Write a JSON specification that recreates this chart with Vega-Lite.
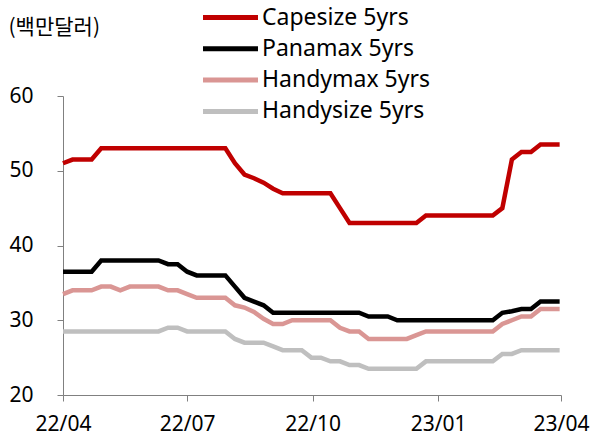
{
  "$schema": "https://vega.github.io/schema/vega-lite/v6.json",
  "width": 498,
  "height": 299,
  "autosize": "none",
  "padding": {"left": 63, "top": 96, "right": 34, "bottom": 46},
  "background": "white",
  "config": {"view": {"stroke": null}},
  "data": {"values": [
    {"d":"2022-04-01","Capesize 5yrs":51,"Panamax 5yrs":36.5,"Handymax 5yrs":33.5,"Handysize 5yrs":28.5},
    {"d":"2022-04-08","Capesize 5yrs":51.5,"Panamax 5yrs":36.5,"Handymax 5yrs":34,"Handysize 5yrs":28.5},
    {"d":"2022-04-15","Capesize 5yrs":51.5,"Panamax 5yrs":36.5,"Handymax 5yrs":34,"Handysize 5yrs":28.5},
    {"d":"2022-04-22","Capesize 5yrs":51.5,"Panamax 5yrs":36.5,"Handymax 5yrs":34,"Handysize 5yrs":28.5},
    {"d":"2022-04-29","Capesize 5yrs":53,"Panamax 5yrs":38,"Handymax 5yrs":34.5,"Handysize 5yrs":28.5},
    {"d":"2022-05-06","Capesize 5yrs":53,"Panamax 5yrs":38,"Handymax 5yrs":34.5,"Handysize 5yrs":28.5},
    {"d":"2022-05-13","Capesize 5yrs":53,"Panamax 5yrs":38,"Handymax 5yrs":34,"Handysize 5yrs":28.5},
    {"d":"2022-05-20","Capesize 5yrs":53,"Panamax 5yrs":38,"Handymax 5yrs":34.5,"Handysize 5yrs":28.5},
    {"d":"2022-05-27","Capesize 5yrs":53,"Panamax 5yrs":38,"Handymax 5yrs":34.5,"Handysize 5yrs":28.5},
    {"d":"2022-06-03","Capesize 5yrs":53,"Panamax 5yrs":38,"Handymax 5yrs":34.5,"Handysize 5yrs":28.5},
    {"d":"2022-06-10","Capesize 5yrs":53,"Panamax 5yrs":38,"Handymax 5yrs":34.5,"Handysize 5yrs":28.5},
    {"d":"2022-06-17","Capesize 5yrs":53,"Panamax 5yrs":37.5,"Handymax 5yrs":34,"Handysize 5yrs":29},
    {"d":"2022-06-24","Capesize 5yrs":53,"Panamax 5yrs":37.5,"Handymax 5yrs":34,"Handysize 5yrs":29},
    {"d":"2022-07-01","Capesize 5yrs":53,"Panamax 5yrs":36.5,"Handymax 5yrs":33.5,"Handysize 5yrs":28.5},
    {"d":"2022-07-08","Capesize 5yrs":53,"Panamax 5yrs":36,"Handymax 5yrs":33,"Handysize 5yrs":28.5},
    {"d":"2022-07-15","Capesize 5yrs":53,"Panamax 5yrs":36,"Handymax 5yrs":33,"Handysize 5yrs":28.5},
    {"d":"2022-07-22","Capesize 5yrs":53,"Panamax 5yrs":36,"Handymax 5yrs":33,"Handysize 5yrs":28.5},
    {"d":"2022-07-29","Capesize 5yrs":53,"Panamax 5yrs":36,"Handymax 5yrs":33,"Handysize 5yrs":28.5},
    {"d":"2022-08-05","Capesize 5yrs":51,"Panamax 5yrs":34.5,"Handymax 5yrs":32,"Handysize 5yrs":27.5},
    {"d":"2022-08-12","Capesize 5yrs":49.5,"Panamax 5yrs":33,"Handymax 5yrs":31.7,"Handysize 5yrs":27},
    {"d":"2022-08-19","Capesize 5yrs":49,"Panamax 5yrs":32.5,"Handymax 5yrs":31.1,"Handysize 5yrs":27},
    {"d":"2022-08-26","Capesize 5yrs":48.4,"Panamax 5yrs":32,"Handymax 5yrs":30.2,"Handysize 5yrs":27},
    {"d":"2022-09-02","Capesize 5yrs":47.6,"Panamax 5yrs":31,"Handymax 5yrs":29.5,"Handysize 5yrs":26.5},
    {"d":"2022-09-09","Capesize 5yrs":47,"Panamax 5yrs":31,"Handymax 5yrs":29.5,"Handysize 5yrs":26},
    {"d":"2022-09-16","Capesize 5yrs":47,"Panamax 5yrs":31,"Handymax 5yrs":30,"Handysize 5yrs":26},
    {"d":"2022-09-23","Capesize 5yrs":47,"Panamax 5yrs":31,"Handymax 5yrs":30,"Handysize 5yrs":26},
    {"d":"2022-09-30","Capesize 5yrs":47,"Panamax 5yrs":31,"Handymax 5yrs":30,"Handysize 5yrs":25},
    {"d":"2022-10-07","Capesize 5yrs":47,"Panamax 5yrs":31,"Handymax 5yrs":30,"Handysize 5yrs":25},
    {"d":"2022-10-14","Capesize 5yrs":47,"Panamax 5yrs":31,"Handymax 5yrs":30,"Handysize 5yrs":24.5},
    {"d":"2022-10-21","Capesize 5yrs":45,"Panamax 5yrs":31,"Handymax 5yrs":29,"Handysize 5yrs":24.5},
    {"d":"2022-10-28","Capesize 5yrs":43,"Panamax 5yrs":31,"Handymax 5yrs":28.5,"Handysize 5yrs":24},
    {"d":"2022-11-04","Capesize 5yrs":43,"Panamax 5yrs":31,"Handymax 5yrs":28.5,"Handysize 5yrs":24},
    {"d":"2022-11-11","Capesize 5yrs":43,"Panamax 5yrs":30.5,"Handymax 5yrs":27.5,"Handysize 5yrs":23.5},
    {"d":"2022-11-18","Capesize 5yrs":43,"Panamax 5yrs":30.5,"Handymax 5yrs":27.5,"Handysize 5yrs":23.5},
    {"d":"2022-11-25","Capesize 5yrs":43,"Panamax 5yrs":30.5,"Handymax 5yrs":27.5,"Handysize 5yrs":23.5},
    {"d":"2022-12-02","Capesize 5yrs":43,"Panamax 5yrs":30,"Handymax 5yrs":27.5,"Handysize 5yrs":23.5},
    {"d":"2022-12-09","Capesize 5yrs":43,"Panamax 5yrs":30,"Handymax 5yrs":27.5,"Handysize 5yrs":23.5},
    {"d":"2022-12-16","Capesize 5yrs":43,"Panamax 5yrs":30,"Handymax 5yrs":28,"Handysize 5yrs":23.5},
    {"d":"2022-12-23","Capesize 5yrs":44,"Panamax 5yrs":30,"Handymax 5yrs":28.5,"Handysize 5yrs":24.5},
    {"d":"2022-12-30","Capesize 5yrs":44,"Panamax 5yrs":30,"Handymax 5yrs":28.5,"Handysize 5yrs":24.5},
    {"d":"2023-01-06","Capesize 5yrs":44,"Panamax 5yrs":30,"Handymax 5yrs":28.5,"Handysize 5yrs":24.5},
    {"d":"2023-01-13","Capesize 5yrs":44,"Panamax 5yrs":30,"Handymax 5yrs":28.5,"Handysize 5yrs":24.5},
    {"d":"2023-01-20","Capesize 5yrs":44,"Panamax 5yrs":30,"Handymax 5yrs":28.5,"Handysize 5yrs":24.5},
    {"d":"2023-01-27","Capesize 5yrs":44,"Panamax 5yrs":30,"Handymax 5yrs":28.5,"Handysize 5yrs":24.5},
    {"d":"2023-02-03","Capesize 5yrs":44,"Panamax 5yrs":30,"Handymax 5yrs":28.5,"Handysize 5yrs":24.5},
    {"d":"2023-02-10","Capesize 5yrs":44,"Panamax 5yrs":30,"Handymax 5yrs":28.5,"Handysize 5yrs":24.5},
    {"d":"2023-02-17","Capesize 5yrs":45,"Panamax 5yrs":31,"Handymax 5yrs":29.5,"Handysize 5yrs":25.5},
    {"d":"2023-02-24","Capesize 5yrs":51.5,"Panamax 5yrs":31.2,"Handymax 5yrs":30,"Handysize 5yrs":25.5},
    {"d":"2023-03-03","Capesize 5yrs":52.5,"Panamax 5yrs":31.5,"Handymax 5yrs":30.5,"Handysize 5yrs":26},
    {"d":"2023-03-10","Capesize 5yrs":52.5,"Panamax 5yrs":31.5,"Handymax 5yrs":30.5,"Handysize 5yrs":26},
    {"d":"2023-03-17","Capesize 5yrs":53.5,"Panamax 5yrs":32.5,"Handymax 5yrs":31.5,"Handysize 5yrs":26},
    {"d":"2023-03-24","Capesize 5yrs":53.5,"Panamax 5yrs":32.5,"Handymax 5yrs":31.5,"Handysize 5yrs":26},
    {"d":"2023-03-31","Capesize 5yrs":53.5,"Panamax 5yrs":32.5,"Handymax 5yrs":31.5,"Handysize 5yrs":26}
  ]},
  "transform": [
    {"fold": ["Handysize 5yrs", "Handymax 5yrs", "Panamax 5yrs", "Capesize 5yrs"], "as": ["series", "value"]}
  ],
  "mark": {"type": "line", "strokeWidth": 4.5, "strokeJoin": "miter", "strokeCap": "butt"},
  "encoding": {
    "x": {
      "field": "d", "type": "temporal",
      "scale": {"type": "utc", "domain": [{"year": 2022, "month": 4, "date": 1, "utc": true}, {"year": 2023, "month": 4, "date": 1, "utc": true}]},
      "axis": {
        "title": null,
        "values": [
          {"year": 2022, "month": 4, "date": 1, "utc": true},
          {"year": 2022, "month": 7, "date": 1, "utc": true},
          {"year": 2022, "month": 10, "date": 1, "utc": true},
          {"year": 2023, "month": 1, "date": 1, "utc": true},
          {"year": 2023, "month": 4, "date": 1, "utc": true}
        ],
        "labelExpr": "utcFormat(datum.value, '%y/%m')",
        "grid": false, "domainColor": "#808080", "tickColor": "#808080", "tickSize": 6,
        "labelFont": "Noto Sans", "labelFontSize": 21, "labelColor": "#000000", "labelPadding": 12,
        "labelOverlap": false, "labelFlush": false
      }
    },
    "y": {
      "field": "value", "type": "quantitative",
      "scale": {"domain": [20, 60], "nice": false, "zero": false},
      "axis": {
        "values": [20, 30, 40, 50, 60],
        "grid": false, "domainColor": "#808080", "tickColor": "#808080", "tickSize": 6,
        "labelFont": "Noto Sans", "labelFontSize": 21, "labelColor": "#000000", "labelPadding": 24,
        "title": "(백만달러)", "titleAngle": 0, "titleAlign": "left", "titleBaseline": "alphabetic",
        "titleX": -55, "titleY": -63, "titleFont": "Noto Sans CJK KR", "titleFontSize": 21,
        "titleFontWeight": "normal", "titleColor": "#000000"
      }
    },
    "color": {
      "field": "series", "type": "nominal",
      "scale": {"domain": ["Capesize 5yrs", "Panamax 5yrs", "Handymax 5yrs", "Handysize 5yrs"],
                "range": ["#C00000", "#000000", "#DA9694", "#BFBFBF"]},
      "legend": {
        "title": null, "orient": "none", "legendX": 151, "legendY": -95,
        "direction": "vertical", "symbolType": "M-2,0H2", "symbolSize": 756, "symbolStrokeWidth": 5,
        "labelFont": "Noto Sans", "labelFontSize": 23, "labelColor": "#000000", "labelOffset": 15,
        "labelLimit": 400, "rowPadding": 2.3, "padding": 0
      }
    },
    "order": {"field": "d", "type": "temporal"}
  }
}
